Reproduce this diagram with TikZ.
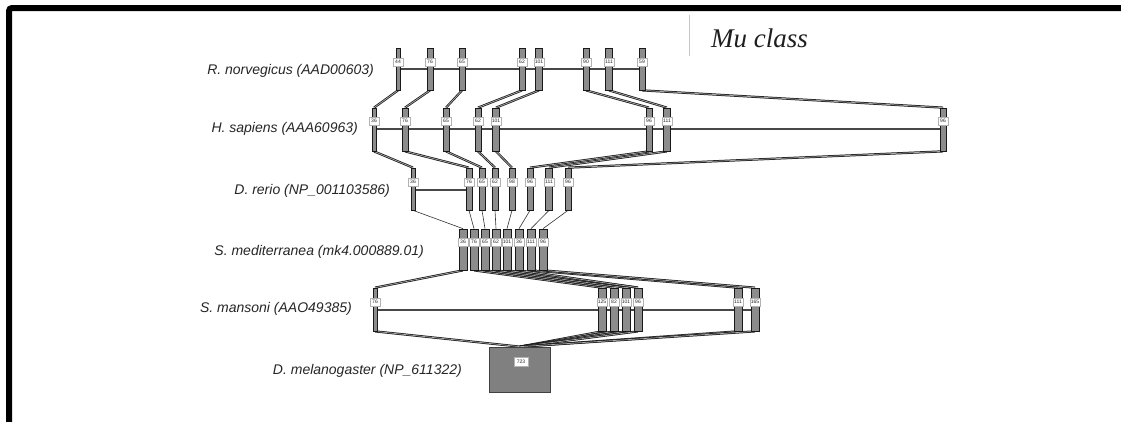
\documentclass[tikz,border=0pt]{standalone}
\usepackage{fontspec}
\setmainfont{Liberation Sans}
\newfontfamily\serifit{Liberation Serif}
\usetikzlibrary{backgrounds}
\newcommand\myexon[7]{%
  \node[bar, minimum width=#5pt, minimum height={(#3-#2)*1pt}] (#1) at (#6,{(#2+#3)/2}) {};
  \node[num] (#1n) at (#6,#4) {#7};}
\begin{document}
\begin{tikzpicture}[x=1pt,y=-1pt,
  bar/.style={draw=black!90, fill=black!45, line width=0.7pt, inner sep=0pt},
  num/.style={draw=gray!60, fill=white, line width=0.3pt, inner sep=0.5pt, minimum height=8.5pt, minimum width=10pt, font=\fontsize{5}{5}\selectfont, text=black!85},
  conn/.style={draw=black!90, line width=0.75pt, double=gray!65, double distance=0.7pt},
  thinconn/.style={draw=black!80, line width=0.6pt},
  gline/.style={draw=black!72, line width=1.5pt},
  sp/.style={anchor=east, inner sep=0pt, font=\fontsize{14}{14}\selectfont\itshape, text=black!85},
]
\useasboundingbox (0,0) rectangle (1121,421);
% frame
\draw[line width=6pt, rounded corners=3pt] (9,425) -- (9,8) -- (1125,8);
% title
\draw[gray!45, line width=1pt] (689,15) -- (689,56);
\node[font=\serifit\itshape\fontsize{27}{27}\selectfont, anchor=west, inner sep=0pt, text=black!88] (title) at (711,38) {Mu class};
% species labels
\node[sp] (lr) at (374,71) {R. norvegicus (AAD00603)};
\node[sp] (lh) at (358,129) {H. sapiens (AAA60963)};
\node[sp] (ld) at (390,191) {D. rerio (NP\_001103586)};
\node[sp] (ls) at (424,252) {S. mediterranea (mk4.000889.01)};
\node[sp] (lm) at (352,309) {S. mansoni (AAO49385)};
\node[sp] (lf) at (462,371) {D. melanogaster (NP\_611322)};
% exons: name, ytop, ybot, ylabel, width, x, label
% R. norvegicus
\myexon{r1}{48}{90}{62}{4}{398}{44}
\myexon{r2}{48}{90}{62}{6}{430}{76}
\myexon{r3}{48}{90}{62}{6}{462}{65}
\myexon{r4}{48}{90}{62}{6}{522}{62}
\myexon{r5}{48}{90}{62}{7}{539}{101}
\myexon{r6}{48}{90}{62}{6}{586}{90}
\myexon{r7}{48}{90}{62}{7}{609}{111}
\myexon{r8}{48}{90}{62}{6}{642}{59}
% H. sapiens
\myexon{h1}{108}{151}{121}{4}{374}{36}
\myexon{h2}{108}{151}{121}{6}{405}{76}
\myexon{h3}{108}{151}{121}{6}{446}{65}
\myexon{h4}{108}{151}{121}{6}{478}{62}
\myexon{h5}{108}{151}{121}{7}{496}{101}
\myexon{h6}{108}{151}{121}{6}{649}{96}
\myexon{h7}{108}{151}{121}{7}{667}{111}
\myexon{h8}{108}{151}{121}{6}{943}{96}
% D. rerio
\myexon{d1}{168}{210}{182}{4}{413}{36}
\myexon{d2}{168}{210}{182}{6}{469}{76}
\myexon{d3}{168}{210}{182}{6}{482}{65}
\myexon{d4}{168}{210}{182}{6}{495}{62}
\myexon{d5}{168}{210}{182}{6}{512}{98}
\myexon{d6}{168}{210}{182}{6}{530}{96}
\myexon{d7}{168}{210}{182}{7}{549}{111}
\myexon{d8}{168}{210}{182}{6}{568}{96}
% S. mediterranea
\myexon{s1}{229}{270}{242}{8}{463}{36}
\myexon{s2}{229}{270}{242}{8}{474}{76}
\myexon{s3}{229}{270}{242}{8}{485}{65}
\myexon{s4}{229}{270}{242}{8}{496}{62}
\myexon{s5}{229}{270}{242}{8}{507}{101}
\myexon{s6}{229}{270}{242}{8}{519}{36}
\myexon{s7}{229}{270}{242}{8}{531}{111}
\myexon{s8}{229}{270}{242}{8}{543}{96}
% S. mansoni
\myexon{m1}{288}{331}{302}{4}{375}{76}
\myexon{m2}{288}{331}{302}{8}{602}{125}
\myexon{m3}{288}{331}{302}{8}{614}{82}
\myexon{m4}{288}{331}{302}{8}{626}{101}
\myexon{m5}{288}{331}{302}{8}{638}{96}
\myexon{m6}{288}{331}{302}{8}{738}{111}
\myexon{m7}{288}{331}{302}{8}{755}{165}
% D. melanogaster
\node[draw=black!75, fill=black!50, line width=0.7pt, minimum width=61pt, minimum height=45pt, inner sep=0pt] (fly) at (520,369.5) {};
\node[num, minimum width=14pt, minimum height=9pt] (flyn) at (521,362) {723};
% genome lines and connectors
\coordinate (yr) at (0,69);
\coordinate (yh) at (0,129);
\coordinate (yd) at (0,190);
\coordinate (ym) at (0,310);
\begin{pgfonlayer}{background}
\fill[white] (0,0) rectangle (1121,421);
\draw[gline] (r1 |- yr) -- (r8 |- yr);
\draw[gline] (h1 |- yh) -- (h8 |- yh);
\draw[gline] (d1 |- yd) -- (d2 |- yd);
\draw[gline] (m1 |- ym) -- (m7 |- ym);
\foreach \i in {1,...,8} {
  \draw[conn] (r\i.south) -- (h\i.north);
  \draw[conn] (h\i.south) -- (d\i.north);
  \draw[thinconn] (d\i.south) -- (s\i.north);
}
\draw[conn] (s1.south) -- (m1.north);
\draw[conn] (s2.south) -- (m2.north);
\draw[conn] (s3.south) -- (m3.north);
\draw[conn] (s4.south) -- (m4.north);
\draw[conn] (s5.south) -- (m5.north);
\draw[conn] (s6.south) -- (m5.north);
\draw[conn] (s7.south) -- (m6.north);
\draw[conn] (s8.south) -- (m7.north);
\foreach \i in {1,...,7} {
  \draw[conn] (m\i.south) -- (fly.north);
}
\end{pgfonlayer}
\end{tikzpicture}
\end{document}
